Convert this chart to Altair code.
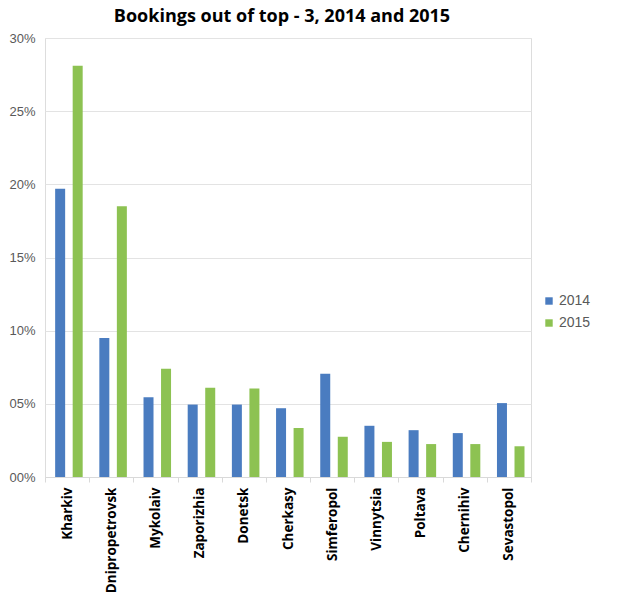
import altair as alt
import pandas as pd

# Share of bookings outside the top-3 cities, by city and year (%)
cities = ["Kharkiv", "Dnipropetrovsk", "Mykolaiv", "Zaporizhia", "Donetsk",
          "Cherkasy", "Simferopol", "Vinnytsia", "Poltava", "Chernihiv", "Sevastopol"]
share_2014 = [19.7, 9.5, 5.45, 4.95, 4.95, 4.7, 7.05, 3.5, 3.2, 3.0, 5.05]
share_2015 = [28.1, 18.5, 7.4, 6.1, 6.05, 3.35, 2.75, 2.4, 2.25, 2.25, 2.1]
years = ["2014", "2015"]
colors = ["#4a7cc0", "#8dc252"]

rows = []
for i, c in enumerate(cities):
    rows.append({"city": c, "year": years[0], "share": share_2014[i]})
    rows.append({"city": c, "year": years[1], "share": share_2015[i]})
df = pd.DataFrame(rows)

chart = (
    alt.Chart(df)
    .mark_bar(size=10)
    .encode(
        x=alt.X(
            "city:N",
            sort=cities,
            title=None,
            scale=alt.Scale(paddingInner=0, paddingOuter=0),
            axis=alt.Axis(
                labelAngle=-90,
                labelFont="Open Sans",
                labelFontWeight="bold",
                labelFontSize=13.5,
                labelColor="#000000",
                labelPadding=5,
                tickBand="extent",
                tickSize=5,
                tickColor="#d9d9d9",
                domainColor="#d9d9d9",
                grid=False,
            ),
        ),
        xOffset=alt.XOffset(
            "year:N",
            scale=alt.Scale(paddingInner=0, paddingOuter=0.26, align=0.7),
        ),
        y=alt.Y(
            "share:Q",
            title=None,
            scale=alt.Scale(domain=[0, 30], nice=False),
            axis=alt.Axis(
                values=[0, 5, 10, 15, 20, 25, 30],
                labelExpr="(datum.value < 10 ? '0' : '') + datum.value + '%'",
                labelFont="Liberation Sans",
                labelFontSize=13,
                labelColor="#595959",
                labelPadding=10,
                ticks=False,
                domain=False,
                gridColor="#e3e3e3",
            ),
        ),
        color=alt.Color(
            "year:N",
            scale=alt.Scale(domain=years, range=colors),
            legend=alt.Legend(
                title=None,
                orient="none",
                legendX=497,
                legendY=256,
                symbolType="square",
                symbolSize=55,
                symbolStrokeWidth=0,
                labelFont="Liberation Sans",
                labelFontSize=14,
                labelColor="#595959",
                rowPadding=8,
                labelOffset=3,
            ),
        ),
    )
    .properties(
        width=486,
        height=439,
        title=alt.TitleParams(
            "Bookings out of top - 3, 2014 and 2015",
            font="Open Sans",
            fontSize=18,
            fontWeight="bold",
            color="#000000",
            anchor="middle",
            offset=6,
            dx=-6,
        ),
        autosize=alt.AutoSizeParams(type="none"),
        padding={"left": 45, "top": 38, "right": 94, "bottom": 118},
    )
    .configure_view(stroke=None)
    .configure(background="white")
)

chart.save("out.html", embed_options={"renderer": "svg", "actions": False})
